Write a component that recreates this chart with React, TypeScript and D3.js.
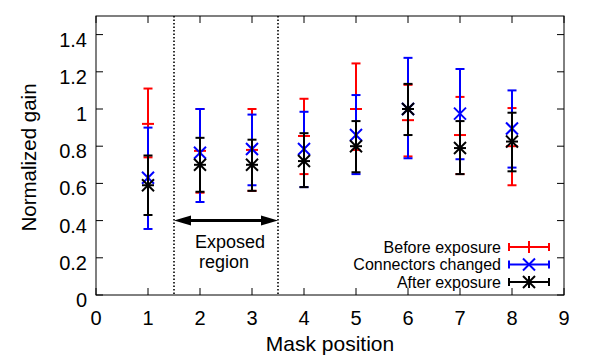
import React from "react";
import * as d3 from "d3";

// mask positions and the three measurement series (value, low, high)
const positions = [1, 2, 3, 4, 5, 6, 7, 8];

const beforeVal = [0.92, 0.775, 0.78, 0.855, 1.0, 0.94, 0.86, 0.8];
const beforeLow = [0.74, 0.55, 0.56, 0.65, 0.78, 0.745, 0.65, 0.59];
const beforeHigh = [1.11, 1.0, 1.0, 1.055, 1.245, 1.13, 1.065, 1.005];

const connVal = [0.63, 0.765, 0.785, 0.785, 0.86, 1.0, 0.975, 0.895];
const connLow = [0.355, 0.5, 0.59, 0.58, 0.65, 0.735, 0.73, 0.685];
const connHigh = [0.9, 1.0, 0.97, 0.985, 1.075, 1.275, 1.215, 1.1];

const afterVal = [0.59, 0.7, 0.7, 0.72, 0.8, 1.0, 0.79, 0.825];
const afterLow = [0.43, 0.555, 0.56, 0.58, 0.66, 0.86, 0.65, 0.665];
const afterHigh = [0.75, 0.845, 0.835, 0.87, 0.935, 1.135, 0.935, 0.98];

const xTicks = [0, 1, 2, 3, 4, 5, 6, 7, 8, 9];
const yTicks = [0, 0.2, 0.4, 0.6, 0.8, 1, 1.2, 1.4];
const exposedBounds = [1.5, 3.5];

const width = 597;
const height = 363;
const margin = { top: 16, right: 33, bottom: 68, left: 96 };

const x = d3.scaleLinear().domain([0, 9]).range([margin.left, width - margin.right]);
const y = d3.scaleLinear().domain([0, 1.5]).range([height - margin.bottom, margin.top]);

const font = "'Liberation Sans', Arial, sans-serif";
const cap = 4.5;
const ms = 6;

const Marker = ({ kind, cx, cy, color }) => {
  const sw = 2;
  if (kind === "plus")
    return (
      <g stroke={color} strokeWidth={sw}>
        <line x1={cx - ms} x2={cx + ms} y1={cy} y2={cy} />
        <line x1={cx} x2={cx} y1={cy - ms} y2={cy + ms} />
      </g>
    );
  if (kind === "cross")
    return (
      <g stroke={color} strokeWidth={sw}>
        <line x1={cx - ms} x2={cx + ms} y1={cy - ms} y2={cy + ms} />
        <line x1={cx - ms} x2={cx + ms} y1={cy + ms} y2={cy - ms} />
      </g>
    );
  return (
    <g stroke={color} strokeWidth={sw}>
      <line x1={cx - ms} x2={cx + ms} y1={cy} y2={cy} />
      <line x1={cx} x2={cx} y1={cy - ms} y2={cy + ms} />
      <line x1={cx - ms} x2={cx + ms} y1={cy - ms} y2={cy + ms} />
      <line x1={cx - ms} x2={cx + ms} y1={cy + ms} y2={cy - ms} />
    </g>
  );
};

const series = [
  { name: "Before exposure", color: "#ff0000", kind: "plus", val: beforeVal, low: beforeLow, high: beforeHigh },
  { name: "Connectors changed", color: "#0000ff", kind: "cross", val: connVal, low: connLow, high: connHigh },
  { name: "After exposure", color: "#000000", kind: "star", val: afterVal, low: afterLow, high: afterHigh },
];

export default function App() {
  const x0 = margin.left;
  const x1 = width - margin.right;
  const y0 = height - margin.bottom;
  const y1 = margin.top;
  const arrowY = y(0.4);
  const ax0 = x(exposedBounds[0]);
  const ax1 = x(exposedBounds[1]);

  return (
    <svg
      width={width}
      height={height}
      style={{ position: "absolute", left: 0, top: 0, background: "#fff" }}
      fontFamily={font}
    >
      <rect width={width} height={height} fill="#fff" />

      {/* ticks, mirrored on all sides */}
      <g stroke="#000" strokeWidth={1}>
        {xTicks.map((t) => (
          <g key={"xt" + t}>
            <line x1={x(t)} x2={x(t)} y1={y0} y2={y0 - 7} />
            <line x1={x(t)} x2={x(t)} y1={y1} y2={y1 + 7} />
          </g>
        ))}
        {yTicks.map((t) => (
          <g key={"yt" + t}>
            <line x1={x0} x2={x0 + 7} y1={y(t)} y2={y(t)} />
            <line x1={x1} x2={x1 - 7} y1={y(t)} y2={y(t)} />
          </g>
        ))}
      </g>

      {/* tick labels */}
      <g fontSize={20} fill="#000">
        {xTicks.map((t) => (
          <text key={"xl" + t} x={x(t)} y={y0 + 30} textAnchor="middle">
            {t}
          </text>
        ))}
        {yTicks.map((t) => (
          <text key={"yl" + t} x={x0 - 9} y={y(t) + 12} textAnchor="end">
            {t}
          </text>
        ))}
      </g>

      {/* axis titles */}
      <text x={(x0 + x1) / 2} y={351} textAnchor="middle" fontSize={21}>
        Mask position
      </text>
      <text
        transform={`translate(36, ${(y0 + y1) / 2 + 2}) rotate(-90)`}
        textAnchor="middle"
        fontSize={20.5}
      >
        Normalized gain
      </text>

      {/* exposed region */}
      {exposedBounds.map((b) => (
        <line
          key={"ex" + b}
          x1={x(b)}
          x2={x(b)}
          y1={y1}
          y2={y0}
          stroke="#000"
          strokeWidth={1.6}
          strokeDasharray="1.5,2"
        />
      ))}
      <line x1={ax0 + 10} x2={ax1 - 10} y1={arrowY} y2={arrowY} stroke="#000" strokeWidth={3} />
      <path d={`M${ax0},${arrowY} l17,-5 l0,10 z`} fill="#000" />
      <path d={`M${ax1},${arrowY} l-17,-5 l0,10 z`} fill="#000" />
      <text x={230} y={248} textAnchor="middle" fontSize={18}>
        Exposed
      </text>
      <text x={224} y={268} textAnchor="middle" fontSize={18}>
        region
      </text>

      {/* error bars */}
      {series.map((s) => (
        <g key={s.name}>
          {positions.map((p, i) => {
            const cx = x(p);
            return (
              <g key={p} stroke={s.color} strokeWidth={2}>
                <line x1={cx} x2={cx} y1={y(s.low[i])} y2={y(s.high[i])} />
                <line x1={cx - cap} x2={cx + cap} y1={y(s.low[i])} y2={y(s.low[i])} />
                <line x1={cx - cap} x2={cx + cap} y1={y(s.high[i])} y2={y(s.high[i])} />
                <Marker kind={s.kind} cx={cx} cy={y(s.val[i])} color={s.color} />
              </g>
            );
          })}
        </g>
      ))}

      {/* legend */}
      {series.map((s, i) => {
        const ly = 247 + i * 17.5;
        return (
          <g key={"lg" + s.name}>
            <text x={501} y={ly + 5.5} textAnchor="end" fontSize={16}>
              {s.name}
            </text>
            <g stroke={s.color} strokeWidth={2}>
              <line x1={509} x2={549} y1={ly} y2={ly} />
              <line x1={509} x2={509} y1={ly - 4} y2={ly + 4} />
              <line x1={549} x2={549} y1={ly - 4} y2={ly + 4} />
            </g>
            <Marker kind={s.kind} cx={529} cy={ly} color={s.color} />
          </g>
        );
      })}

      {/* frame */}
      <rect x={x0} y={y1} width={x1 - x0} height={y0 - y1} fill="none" stroke="#000" strokeWidth={1} />
    </svg>
  );
}
